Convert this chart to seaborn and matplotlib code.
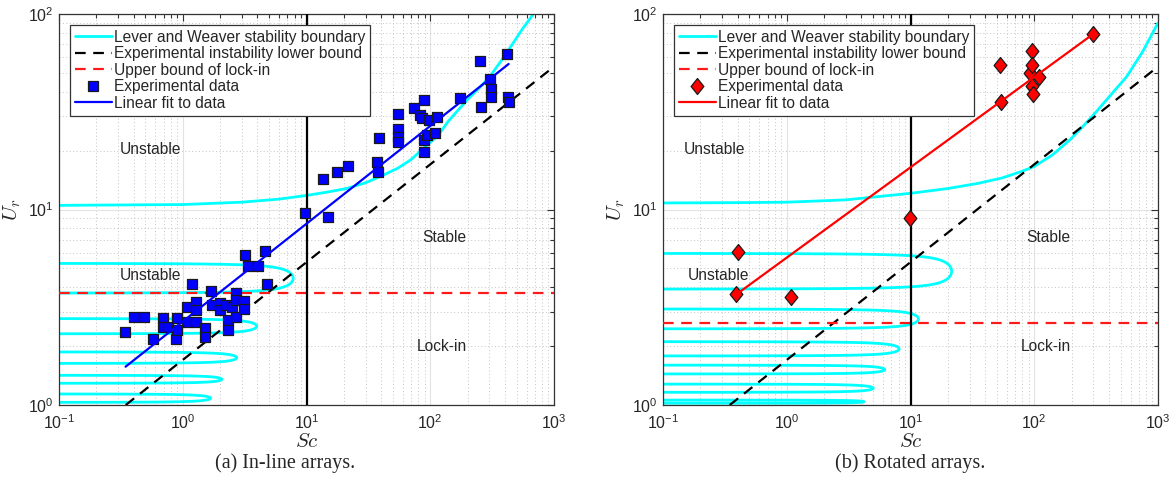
import numpy as np
import matplotlib
matplotlib.use("Agg")
import matplotlib.pyplot as plt
import seaborn as sns
from matplotlib.lines import Line2D
from matplotlib.ticker import LogLocator, FuncFormatter, NullFormatter

# ---------------- data ----------------
inline_sc = [0.341, 0.404, 0.486, 0.571, 0.689, 0.689, 0.760, 0.881, 0.899, 0.899,
             1.08, 1.08, 1.18, 1.28, 1.28, 1.28, 1.51, 1.51, 1.68, 1.71,
             2.00, 2.00, 2.24, 2.32, 2.32, 2.49, 2.69, 2.69, 2.69, 3.13,
             3.13, 3.18, 3.37, 4.06, 4.62, 4.80, 9.73, 14.9, 13.5, 17.7,
             21.8, 37.3, 38.0, 38.7, 55.2, 55.2, 55.2, 55.2, 74.3, 82.6,
             85.3, 89.0, 89.0, 89.0, 93.6, 98.3, 109, 114, 174, 252,
             257, 304, 310, 312, 415, 427, 432]
inline_ur = [2.37, 2.82, 2.82, 2.18, 2.79, 2.51, 2.51, 2.18, 2.79, 2.42,
             3.18, 2.67, 4.16, 3.38, 3.06, 2.67, 2.48, 2.23, 3.84, 3.25,
             3.32, 3.06, 3.25, 2.72, 2.42, 3.17, 3.75, 3.44, 2.82, 3.42,
             3.10, 5.85, 5.14, 5.14, 6.15, 4.16, 9.60, 9.16, 14.4, 15.5,
             16.7, 17.4, 15.6, 23.1, 30.8, 25.7, 23.6, 22.2, 32.9, 30.4,
             29.3, 36.3, 22.7, 19.8, 24.0, 28.7, 24.5, 29.6, 37.0, 57.7,
             33.3, 46.3, 41.2, 37.8, 62.4, 37.8, 35.6]

rot_sc = [0.401, 0.389, 1.08, 9.9, 52.8, 53.8, 92.5, 96.4, 96.4, 96.4, 97, 110, 297]
rot_ur = [6.04, 3.68, 3.58, 9.05, 54.8, 35.6, 49.7, 64.9, 54.8, 42.8, 39.0, 47.5, 78.7]

# linear (log-log) fits, endpoints
inline_fit_sc = [0.345, 430]
inline_fit_ur = [1.57, 55.5]
rot_fit_sc = [0.42, 297]
rot_fit_ur = [3.8, 78.7]

# experimental instability lower bound
lower_sc = [0.346, 1000]
lower_ur = [1.0, 53.8]

# upper bound of lock-in
lockin_inline = 3.73
lockin_rot = 2.62
sc_line = 10

# Lever & Weaver boundary: main branch
lw_inline_sc = [0.1, 1, 3, 6, 10, 15, 21, 30, 40, 55, 70, 90, 115, 140, 170, 200,
                250, 300, 370, 450, 550, 681]
lw_inline_ur = [10.5, 10.6, 10.9, 11.3, 11.8, 12.3, 12.8, 13.7, 14.8, 16.3, 18.0, 20.8,
                23.8, 28.3, 32.5, 36.5, 42.0, 47.5, 57.0, 68.5, 83.0, 100]
lw_rot_sc = [0.1, 0.5, 1, 3, 10, 20, 35, 55, 80, 100, 140, 194, 250, 300, 400, 558, 750, 1000]
lw_rot_ur = [10.8, 10.85, 10.9, 11.2, 12.1, 12.8, 13.6, 14.5, 15.7, 16.6, 19.0, 22.7,
             26.8, 30.4, 37.5, 47.8, 64.0, 90.0]
# Lever & Weaver boundary: lobes (Ur top, Ur bottom, Sc at tip)
lobes_inline_top = [5.31, 2.77, 1.87, 1.42, 1.14]
lobes_inline_bot = [3.73, 2.31, 1.63, 1.29, 1.03]
lobes_inline_tip = [7.8, 3.96, 2.73, 2.07, 1.68]
lobes_rot_top = [5.97, 3.10, 2.11, 1.60, 1.28, 1.06]
lobes_rot_bot = [3.91, 2.45, 1.78, 1.44, 1.16, 1.02]
lobes_rot_tip = [21.5, 11.6, 8.1, 6.2, 5.0, 4.2]

legend_labels = ["Lever and Weaver stability boundary", "Experimental instability lower bound",
                 "Upper bound of lock-in", "Experimental data", "Linear fit to data"]
captions = ["(a) In-line arrays.", "(b) Rotated arrays."]

# ---------------- style ----------------
sns.set_style("white")
plt.rcParams["font.family"] = ["Liberation Sans", "DejaVu Sans"]
plt.rcParams["mathtext.fontset"] = "cm"

fig = plt.figure(figsize=(11.76, 4.80), dpi=100)
W, H = 1176, 480
axL = fig.add_axes([59 / W, 1 - 405 / H, 495 / W, 391 / H])
axR = fig.add_axes([663 / W, 1 - 405 / H, 495 / W, 391 / H])

CYAN = "#00FFFF"
DASH = (0, (4.8, 3.4))
diamond = [(0, 1), (0.8, 0), (0, -1), (-0.8, 0), (0, 1)]
FS = 11.2


def draw_lobes(ax, tops, bots, tips):
    th = np.linspace(-1.566, 1.566, 800)
    for t, b, tip in zip(tops, bots, tips):
        lt, lb = np.log10(t), np.log10(b)
        mid, half = (lt + lb) / 2, (lt - lb) / 2
        xs = 10 ** (np.log10(tip) - 0.33 * (1 / np.cos(th) - 1))
        ys = 10 ** (mid + half * np.sin(th))
        sns.lineplot(x=xs, y=ys, sort=False, estimator=None, ax=ax, color=CYAN, lw=2, zorder=2)


def setup(ax, lw_sc, lw_ur, ltop, lbot, ltip, lockin, dsc, dur, marker, mcolor, msize,
          fsc, fur, fcolor, caption, cap_x, txt_x):
    ax.set_xscale("log")
    ax.set_yscale("log")
    ax.set_xlim(0.1, 1000)
    ax.set_ylim(1, 100)
    ax.grid(which="major", ls="-", color="#e2e2e2", lw=0.8, zorder=0)
    ax.grid(which="minor", ls=(0, (1, 2.5)), color="#c4c4c4", lw=0.7, zorder=0)
    ax.set_axisbelow(True)

    sns.lineplot(x=lw_sc, y=lw_ur, sort=False, estimator=None, ax=ax, color=CYAN, lw=2, zorder=2)
    draw_lobes(ax, ltop, lbot, ltip)
    sns.lineplot(x=lower_sc, y=lower_ur, ax=ax, color="black", lw=1.6, linestyle=DASH, zorder=3)
    ax.axhline(lockin, color="#ff1a1a", lw=1.6, linestyle=DASH, zorder=3)
    ax.axvline(sc_line, color="black", lw=1.6, zorder=3)
    sns.lineplot(x=fsc, y=fur, ax=ax, color=fcolor, lw=1.6, zorder=5)
    sns.scatterplot(x=dsc, y=dur, ax=ax, marker=marker, s=msize, color=mcolor,
                    edgecolor="#1a1a1a", linewidth=0.9, zorder=4)

    ax.xaxis.set_major_locator(LogLocator(base=10, numticks=10))
    ax.yaxis.set_major_locator(LogLocator(base=10, numticks=10))
    ax.xaxis.set_minor_locator(LogLocator(base=10, subs=np.arange(2, 10), numticks=20))
    ax.yaxis.set_minor_locator(LogLocator(base=10, subs=np.arange(2, 10), numticks=20))
    fmt = FuncFormatter(lambda v, _: r"$\mathregular{10^{%d}}$" % int(round(np.log10(v))))
    ax.xaxis.set_major_formatter(fmt)
    ax.yaxis.set_major_formatter(fmt)
    ax.xaxis.set_minor_formatter(NullFormatter())
    ax.yaxis.set_minor_formatter(NullFormatter())
    ax.tick_params(which="both", direction="in", top=True, right=True, labelsize=11.5,
                   color="#333333", width=0.8)
    ax.tick_params(which="major", length=5)
    ax.tick_params(axis="x", which="major", pad=6)
    ax.tick_params(axis="y", which="major", pad=4)
    ax.tick_params(which="minor", length=3)
    for s in ax.spines.values():
        s.set_color("#333333")
        s.set_linewidth(0.9)

    ax.set_xlabel(r"$Sc$", fontsize=15)
    ax.set_ylabel(r"$U_r$", fontsize=15)
    ax.xaxis.set_label_coords(0.5, -0.068)
    ax.yaxis.set_label_coords(-0.072, 0.5)

    ax.text(txt_x[0], 20.2, "Unstable", fontsize=FS, ha="center", va="center")
    ax.text(txt_x[1], 4.62, "Unstable", fontsize=FS, ha="center", va="center")
    ax.text(130, 7.15, "Stable", fontsize=FS, ha="center", va="center")
    ax.text(124, 2.0, "Lock-in", fontsize=FS, ha="center", va="center")

    handles = [
        Line2D([], [], color=CYAN, lw=2),
        Line2D([], [], color="black", lw=1.6, linestyle=DASH),
        Line2D([], [], color="#ff1a1a", lw=1.6, linestyle=DASH),
        Line2D([], [], color=mcolor, marker=marker, ls="none",
               markersize=np.sqrt(msize), markeredgecolor="#1a1a1a", markeredgewidth=0.9),
        Line2D([], [], color=fcolor, lw=1.6),
    ]
    leg = ax.legend(handles, legend_labels, loc="upper left", bbox_to_anchor=(0.022, 0.972),
                    borderaxespad=0, fontsize=FS, frameon=True, fancybox=False,
                    framealpha=1, edgecolor="#333333", handlelength=2.4, handletextpad=0.12,
                    labelspacing=0.1, borderpad=0.3, numpoints=1)
    leg.get_frame().set_linewidth(0.9)
    leg.set_zorder(10)

    fig.text(cap_x / W, 1 - 463 / H, caption, ha="center", va="center",
             family="Liberation Serif", fontsize=14.5)


setup(axL, lw_inline_sc, lw_inline_ur, lobes_inline_top, lobes_inline_bot, lobes_inline_tip,
      lockin_inline, inline_sc, inline_ur, "s", "#0000ff", 56,
      inline_fit_sc, inline_fit_ur, "#0000ff", captions[0], 285, (0.55, 0.55))
setup(axR, lw_rot_sc, lw_rot_ur, lobes_rot_top, lobes_rot_bot, lobes_rot_tip,
      lockin_rot, rot_sc, rot_ur, diamond, "#ff0000", 132,
      rot_fit_sc, rot_fit_ur, "#ff0000", captions[1], 910, (0.26, 0.28))

fig.savefig("out.png", dpi=100)
